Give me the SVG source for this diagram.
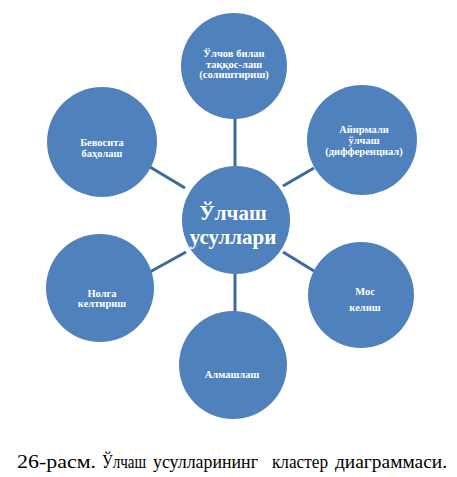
<svg xmlns="http://www.w3.org/2000/svg" width="457" height="477" viewBox="0 0 457 477">
<style>
.n{fill:#4F81BD}
.t{font-family:'Liberation Serif','Times New Roman',serif;font-weight:bold;fill:#fff;text-anchor:middle;font-size:10.5px}
.c{font-size:21px}
.cap{font-family:'Liberation Serif','Times New Roman',serif;font-size:18px;fill:#000}
#connectors line{stroke:#3C6A9E;stroke-width:3}
</style>
<rect width="457" height="477" fill="#fff"/>
<g id="connectors">
<line x1="235" y1="118" x2="235" y2="168"/>
<line x1="314" y1="168" x2="283" y2="186"/>
<line x1="150" y1="167" x2="185" y2="188"/>
<line x1="283" y1="252" x2="314" y2="271"/>
<line x1="186" y1="252" x2="148" y2="273"/>
<line x1="235" y1="272" x2="235" y2="312"/>
</g>
<g id="top"><circle class="n" cx="234" cy="66" r="53"/>
<text class="t" x="234" y="57">Ўлчов билан</text><text class="t" x="234" y="68">таққос-лаш</text><text class="t" x="234" y="78">(солиштириш)</text></g>
<g id="topright"><circle class="n" cx="362" cy="140" r="55"/>
<text class="t" x="364" y="133">Айирмали</text><text class="t" x="364" y="144">ўлчаш</text><text class="t" x="364" y="155">(дифференциал)</text></g>
<g id="topleft"><circle class="n" cx="102" cy="142" r="55"/>
<text class="t" x="102" y="146">Бевосита</text><text class="t" x="102" y="157">баҳолаш</text></g>
<g id="center"><circle class="n" cx="236" cy="220" r="54"/>
<text class="t c" x="233" y="220">Ўлчаш</text><text class="t c" x="233" y="244">усуллари</text></g>
<g id="bottomright"><circle class="n" cx="361" cy="295" r="53"/>
<text class="t" x="365" y="295">Мос</text><text class="t" x="365" y="311">келиш</text></g>
<g id="bottomleft"><circle class="n" cx="100" cy="288" r="54"/>
<text class="t" x="102" y="297">Нолга</text><text class="t" x="102" y="307">келтириш</text></g>
<g id="bottom"><circle class="n" cx="233" cy="365" r="54"/>
<text class="t" x="232" y="378">Алмашлаш</text></g>
<g class="cap">
<text x="17" y="468" textLength="79" lengthAdjust="spacingAndGlyphs">26-расм.</text>
<text x="102" y="468" textLength="44" lengthAdjust="spacingAndGlyphs">Ўлчаш</text>
<text x="153" y="468" textLength="105" lengthAdjust="spacingAndGlyphs">усулларининг</text>
<text x="272" y="468" textLength="56" lengthAdjust="spacingAndGlyphs">кластер</text>
<text x="335" y="468" textLength="112" lengthAdjust="spacingAndGlyphs">диаграммаси.</text>
</g>
</svg>
